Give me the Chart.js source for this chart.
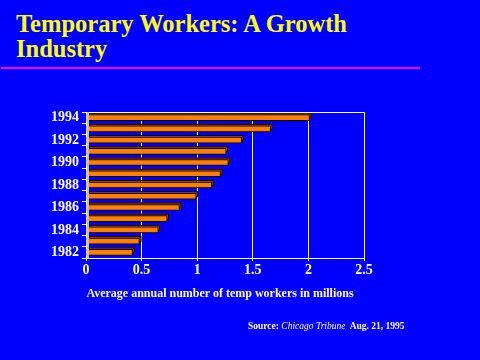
<!DOCTYPE html>
<html>
<head>
<meta charset="utf-8">
<script src="https://cdn.jsdelivr.net/npm/chart.js@4/dist/chart.umd.min.js"></script>
<style>
  html, body { margin: 0; padding: 0; background: #0000FF; }
  #wrap { position: relative; width: 480px; height: 360px; overflow: hidden; background: #0000FF; }
  #c { position: absolute; left: 0; top: 0; }
  .title { position: absolute; left: 16px; top: 11px; color: #FFFF00; font: bold 24.5px "Liberation Serif", "Times New Roman", serif; line-height: 25px; margin: 0; }
  .rule { position: absolute; left: 1px; top: 67px; width: 419px; height: 2px; background: #FF00FF; }
  .axt { position: absolute; left: 0; width: 440px; text-align: center; top: 286px; color: #fff; font: bold 12px "Liberation Serif", "Times New Roman", serif; }
  .src { position: absolute; left: 248px; top: 321px; color: #fff; font: bold 9.5px "Liberation Serif", "Times New Roman", serif; }
  .src i { font-weight: normal; }
</style>
</head>
<body>
<div id="wrap">
  <div class="title">Temporary Workers: A Growth<br>Industry</div>
  <div class="rule"></div>
  <canvas id="c" width="480" height="360"></canvas>
  <div class="axt">Average annual number of temp workers in millions</div>
  <div class="src">Source: <i>Chicago Tribune</i>&nbsp; Aug. 21, 1995</div>
</div>
<script>
const years = ['1982','1983','1984','1985','1986','1987','1988','1989','1990','1991','1992','1993','1994'];
const workers = [0.42, 0.48, 0.65, 0.73, 0.84, 0.99, 1.13, 1.21, 1.28, 1.26, 1.40, 1.66, 2.01];
const xTicks = [0, 0.5, 1, 1.5, 2, 2.5];

const bar3d = {
  id: 'bar3d',
  beforeDatasetsDraw(chart) {
    const ctx = chart.ctx;
    const meta = chart.getDatasetMeta(0);
    ctx.save();
    meta.data.forEach(el => {
      const p = el.getProps(['x','y','base','height'], true);
      const top = p.y - p.height / 2 - 2;
      ctx.fillStyle = '#B84800';
      ctx.fillRect(p.base + 2, top, p.x - p.base, p.height);
      ctx.strokeStyle = '#000';
      ctx.lineWidth = 1;
      ctx.strokeRect(p.base + 2.5, top + 0.5, p.x - p.base - 1, p.height - 1);
    });
    ctx.restore();
  },
  afterDraw(chart) {
    const a = chart.chartArea, ctx = chart.ctx;
    ctx.save();
    ctx.strokeStyle = '#fff';
    ctx.lineWidth = 1;
    ctx.beginPath();
    ctx.moveTo(a.left, a.top + 0.5);
    ctx.lineTo(a.right, a.top + 0.5);
    ctx.stroke();
    ctx.fillStyle = '#C0C0C0';
    ctx.fillRect(a.left + 1, a.top, 2, a.bottom - a.top);
    ctx.restore();
  }
};

new Chart(document.getElementById('c'), {
  type: 'bar',
  data: {
    labels: years,
    datasets: [{
      data: workers,
      backgroundColor: '#FF8000',
      borderColor: '#000',
      borderWidth: 1,
      barThickness: 6
    }]
  },
  plugins: [bar3d],
  options: {
    indexAxis: 'y',
    responsive: false,
    animation: false,
    layout: { padding: { top: 112, right: 116, left: 0, bottom: 0 } },
    plugins: { legend: { display: false }, tooltip: { enabled: false }, title: { display: false } },
    scales: {
      x: {
        min: 0, max: 2.5,
        afterBuildTicks(s) { s.ticks = xTicks.map(v => ({ value: v })); },
        afterFit(s) { s.height = 102; },
        ticks: {
          color: '#fff', padding: 1,
          font: { family: '"Liberation Serif", "Times New Roman", serif', size: 14, weight: 'bold' },
          callback: v => String(v)
        },
        grid: { color: '#fff', lineWidth: 1, tickLength: 3, drawTicks: true },
        border: { color: '#fff', width: 1 }
      },
      y: {
        reverse: true,
        afterFit(s) { s.width = 86; },
        ticks: {
          color: '#fff', padding: 3, autoSkip: false,
          font: { family: '"Liberation Serif", "Times New Roman", serif', size: 14, weight: 'bold' },
          callback: function(v, i) { const y = years[i]; return (parseInt(y) % 2 === 0) ? y : ''; }
        },
        grid: { drawOnChartArea: false, color: '#fff', tickLength: 4, offset: true },
        border: { color: '#fff', width: 1 }
      }
    }
  }
});
</script>
</body>
</html>
